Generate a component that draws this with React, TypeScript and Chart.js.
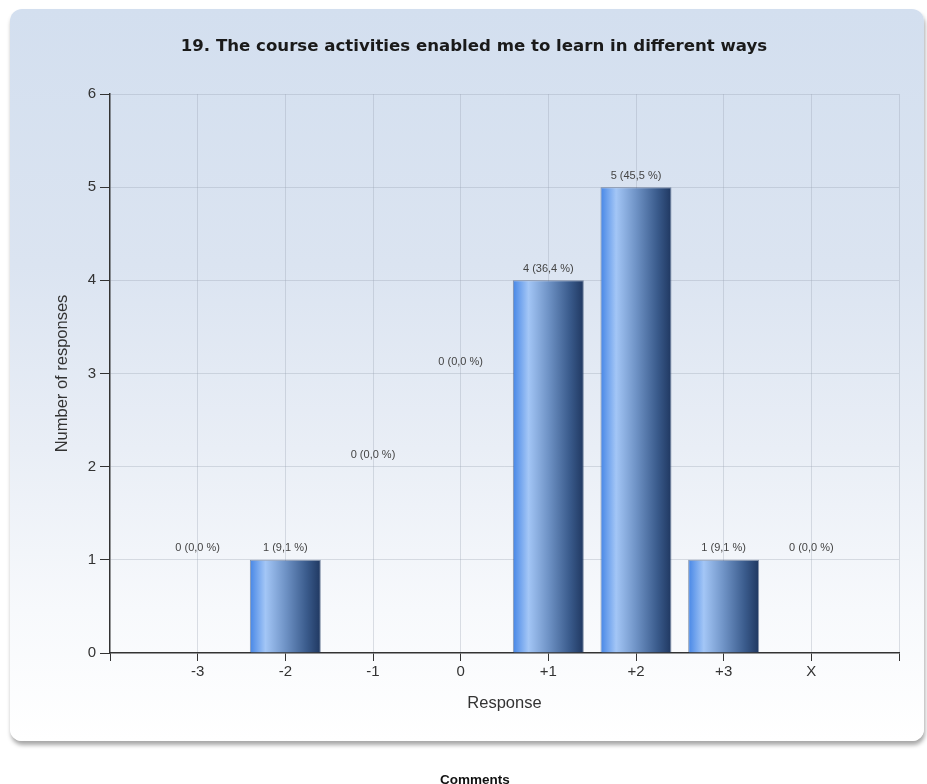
import React, { useEffect, useRef } from "react";
import { Chart, registerables } from "chart.js";

Chart.register(...registerables);

// Survey answers for question 19
const categories: string[] = ["-3", "-2", "-1", "0", "+1", "+2", "+3", "X"];
const responses: number[] = [0, 1, 0, 0, 4, 5, 1, 0];
// Height (in response units) at which each value label sits
const labelHeights: number[] = [1, 1, 2, 3, 4, 5, 1, 1];
const yTicks: number[] = [0, 1, 2, 3, 4, 5, 6];

const TITLE = "19. The course activities enabled me to learn in different ways";
const BAR_FRACTION = 0.81;
const TOTAL = responses.reduce((a, b) => a + b, 0);

const fmtLabel = (v: number) => {
  const pct = TOTAL ? (v / TOTAL) * 100 : 0;
  return `${v} (${pct.toFixed(1).replace(".", ",")} %)`;
};

const panelTitle = {
  id: "panelTitle",
  afterDraw(chart: any) {
    const { ctx } = chart;
    ctx.save();
    ctx.font = "bold 16.6px 'DejaVu Sans', Verdana, sans-serif";
    ctx.fillStyle = "#1a1a1a";
    ctx.textAlign = "center";
    ctx.textBaseline = "middle";
    ctx.fillText(TITLE, 474, 47);
    ctx.restore();
  },
};

const valueLabels = {
  id: "valueLabels",
  afterDatasetsDraw(chart: any) {
    const { ctx } = chart;
    const xs = chart.scales.x;
    const ys = chart.scales.y;
    ctx.save();
    ctx.font = "11px 'Liberation Sans', Arial, sans-serif";
    ctx.fillStyle = "#444";
    ctx.textAlign = "center";
    ctx.textBaseline = "middle";
    responses.forEach((v, i) => {
      const x = xs.getPixelForValue(i - 3);
      const y = ys.getPixelForValue(labelHeights[i]) - 11.5;
      ctx.fillText(fmtLabel(v), x, y);
    });
    ctx.restore();
  },
};

function barGradient(context: any) {
  const chart = context.chart;
  const xs = chart.scales?.x;
  if (!xs || !context.raw) return "#5b8fd6";
  const cx = xs.getPixelForValue(context.raw.x);
  const half = ((xs.getPixelForValue(1) - xs.getPixelForValue(0)) * BAR_FRACTION) / 2;
  if (!isFinite(cx) || !isFinite(half)) return "#5b8fd6";
  const g = chart.ctx.createLinearGradient(cx - half, 0, cx + half, 0);
  g.addColorStop(0, "#4686e6");
  g.addColorStop(0.22, "#a3c6f6");
  g.addColorStop(0.5, "#6f93c6");
  g.addColorStop(0.8, "#3a5b8c");
  g.addColorStop(1, "#1f3760");
  return g;
}

export default function App() {
  const ref = useRef<HTMLCanvasElement | null>(null);

  useEffect(() => {
    if (!ref.current) return;
    const tickFont = { family: "'Liberation Sans', Arial, sans-serif", size: 15 };
    const titleFont = { family: "'Liberation Sans', Arial, sans-serif", size: 16.5 };
    const gridColor = "rgba(150,160,175,0.32)";
    const chart = new Chart(ref.current, {
      type: "bar",
      data: {
        datasets: [
          {
            data: responses.map((v, i) => ({ x: i - 3, y: v })),
            backgroundColor: barGradient,
            borderColor: "rgba(28,52,92,0.5)",
            borderWidth: 1,
            categoryPercentage: BAR_FRACTION,
            barPercentage: 1,
          },
        ],
      },
      options: {
        responsive: false,
        animation: false,
        devicePixelRatio: 1,
        layout: { padding: { left: 0, top: 94, right: 28, bottom: 71 } },
        plugins: {
          legend: { display: false },
          title: { display: false },
          tooltip: { enabled: false },
        },
        scales: {
          x: {
            type: "linear",
            min: -4,
            max: 5,
            offset: false,
            afterBuildTicks(scale: any) {
              const t = [];
              for (let v = -4; v <= 5; v++) t.push({ value: v });
              scale.ticks = t;
            },
            afterFit(scale: any) {
              scale.height = 60;
            },
            ticks: {
              autoSkip: false,
              maxRotation: 0,
              color: "#333",
              font: tickFont,
              padding: 2,
              callback: (v: any) => categories[Number(v) + 3] ?? "",
            },
            grid: {
              offset: false,
              color: (c: any) => (c.tick && c.tick.value === -4 ? "rgba(0,0,0,0)" : gridColor),
              tickColor: "#333",
              tickLength: 8,
            },
            border: { display: true, color: "#333", width: 1.5 },
            title: {
              display: true,
              text: "Response",
              color: "#333",
              font: titleFont,
              padding: { top: 0, bottom: 0 },
            },
          },
          y: {
            type: "linear",
            min: 0,
            max: 6,
            afterBuildTicks(scale: any) {
              scale.ticks = yTicks.map((v) => ({ value: v }));
            },
            afterFit(scale: any) {
              scale.width = 110;
            },
            ticks: {
              color: "#333",
              font: tickFont,
              padding: 4,
            },
            grid: {
              color: (c: any) => (c.tick && c.tick.value === 0 ? "rgba(0,0,0,0)" : gridColor),
              tickColor: "#333",
              tickLength: 10,
            },
            border: { display: true, color: "#333", width: 1.5 },
            title: {
              display: true,
              text: "Number of responses",
              color: "#333",
              font: titleFont,
              padding: { top: 53, bottom: 0 },
            },
          },
        },
      } as any,
      plugins: [valueLabels, panelTitle],
    });
    return () => chart.destroy();
  }, []);

  return (
    <div
      style={{
        position: "absolute",
        left: 0,
        top: 0,
        width: 927,
        height: 784,
        overflow: "hidden",
        background: "#fff",
      }}
    >
      <div
        style={{
          position: "absolute",
          left: 10,
          top: 9,
          width: 914,
          height: 732,
          borderRadius: 12,
          background:
            "linear-gradient(to bottom, #d3dfef 0%, #dbe4f1 35%, #e9eef6 60%, #f7f9fc 82%, #ffffff 100%)",
          boxShadow: "1px 4px 4px rgba(0,0,0,0.35)",
        }}
      />
      <canvas
        ref={ref}
        width={927}
        height={784}
        style={{ position: "absolute", left: 0, top: 0, width: 927, height: 784 }}
      />
      <div
        style={{
          position: "absolute",
          left: 0,
          width: 950,
          top: 772,
          textAlign: "center",
          font: "bold 13.5px 'Liberation Sans', Arial, sans-serif",
          color: "#111",
        }}
      >
        Comments
      </div>
    </div>
  );
}
